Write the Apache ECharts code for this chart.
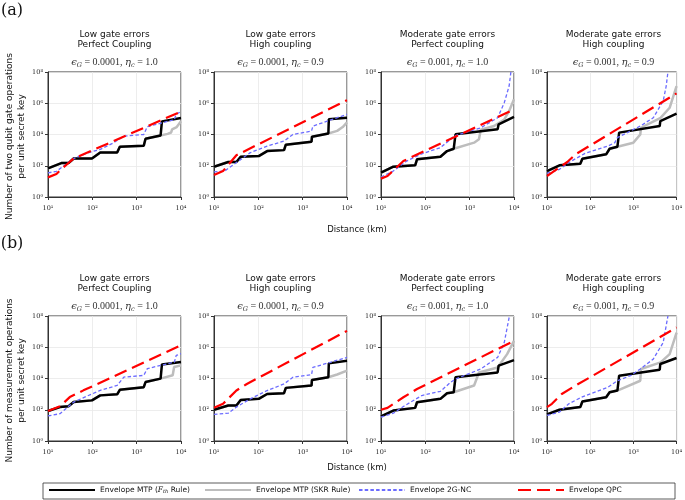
<!DOCTYPE html>
<html>
<head>
<meta charset="utf-8">
<script src="https://cdn.jsdelivr.net/npm/echarts@6/dist/echarts.min.js"></script>
<style>html,body{margin:0;padding:0;background:#fff}#c{width:685px;height:500px}</style>
</head>
<body>
<div id="c"></div>
<script>
// ---------- text / categories ----------
const panelTitles = ['Low gate errors\nPerfect Coupling', 'Low gate errors\nHigh coupling', 'Moderate gate errors\nPerfect coupling', 'Moderate gate errors\nHigh coupling'];
const epsG = ['0.0001', '0.0001', '0.001', '0.001'];
const etaC = ['1.0', '0.9', '1.0', '0.9'];
const rowLetters = ['(a)', '(b)'];
const yLabels = ['Number of two qubit gate operations\nper unit secret key', 'Number of measurement operations\nper unit secret key'];
const xLabel = 'Distance (km)';
const seriesNames = ['Envelope MTP (F_th Rule)', 'Envelope MTP (SKR Rule)', 'Envelope 2G-NC', 'Envelope QPC'];
const xTickExps = [1, 2, 3, 4];
const yTickExps = [0, 2, 4, 6, 8];

// ---------- data: [distance km, operations] ----------
// (a) two-qubit gate operations
const mtpF_a1 = [[10,68],[20,148],[29,148],[38,290],[98,290],[151,700],[363,700],[417,1660],[1445,1900],[1585,5300],[3467,8700],[3715,69000],[10000,112000]];
const mtpS_a1 = [[10,68],[20,148],[29,148],[38,290],[98,290],[151,700],[363,700],[417,1660],[1445,1900],[1585,5300],[3467,8700],[5000,11000],[6000,13500],[6300,21000],[8000,30000],[10000,70000]];
const ncG_a1  = [[10,35],[15.5,44],[38,290],[74,630],[151,1120],[302,2950],[513,7900],[1445,10000],[1738,31600],[7079,89000],[7800,200000],[10000,295000]];
const qpc_a1  = [[10,18],[15.5,30],[20,60],[29,150],[38,290],[10000,295000]];

const mtpF_a2 = [[10,87],[21,174],[32,174],[40,380],[102,417],[158,870],[380,1000],[417,2240],[1585,3470],[1622,7240],[3802,11700],[3890,93000],[10000,117000]];
const mtpS_a2 = [[10,87],[21,174],[32,174],[40,380],[102,417],[158,870],[380,1000],[417,2240],[1585,3470],[1622,7240],[3802,11700],[6000,17000],[8000,30000],[10000,60000]];
const ncG_a2  = [[10,40],[17.4,46],[32,160],[66,690],[158,1820],[380,3800],[603,10000],[1585,16600],[1700,34700],[10000,195000]];
const qpc_a2  = [[10,26],[16,46],[32,470],[10000,1580000]];

const mtpF_a3 = [[10,36],[19,87],[59,107],[65,257],[219,380],[309,870],[437,1230],[479,10200],[4266,21400],[4500,44700],[10000,132000]];
const mtpS_a3 = [[10,36],[19,87],[59,107],[65,257],[219,380],[309,870],[437,1230],[1259,3000],[1622,4900],[1778,20000],[3548,35000],[6026,89000],[7762,320000],[10000,1780000]];
const ncG_a3  = [[10,19],[19,46],[38,200],[78,540],[219,1450],[372,4900],[437,7900],[479,10000],[1778,27000],[4266,117000],[6026,1070000],[7762,12600000],[8511,100000000]];
const qpc_a3  = [[10,15],[14,22],[32,200],[46,330],[10000,400000]];

const mtpF_a4 = [[10,46],[19.5,107],[59,135],[66,282],[234,537],[282,1230],[427,1660],[468,13200],[4074,34700],[4200,72400],[10000,214000]];
const mtpS_a4 = [[10,46],[19.5,107],[59,135],[66,282],[234,537],[282,1230],[427,1660],[1000,3000],[1445,10000],[1500,27000],[4266,117000],[6918,513000],[10000,12600000]];
const ncG_a4  = [[10,33],[19.5,59],[32,160],[76,620],[257,1820],[372,3000],[427,6300],[851,16600],[1445,34700],[2884,117000],[4898,1380000],[5754,12600000],[6310,100000000]];
const qpc_a4  = [[10,22],[13,36],[29.5,174],[46,540],[10000,4270000]];

// (b) measurement operations
const mtpF_b1 = [[10,83],[18.6,148],[29,166],[38,309],[98,398],[151,832],[363,977],[417,1900],[1445,2800],[1585,5900],[3467,9800],[3715,79000],[10000,112000]];
const mtpS_b1 = [[10,83],[18.6,148],[29,166],[38,309],[98,398],[151,832],[363,977],[417,1900],[1445,2800],[1585,5900],[3467,9800],[6500,16000],[7000,54000],[10000,69000]];
const ncG_b1  = [[10,40],[18.6,56],[38,309],[74,724],[151,1740],[363,3630],[513,12300],[1445,15800],[1738,42700],[7079,112000],[7800,300000],[10000,390000]];
const qpc_b1  = [[10,83],[18.6,166],[31,646],[63,1740],[10000,1320000]];

const mtpF_b2 = [[10,100],[21,186],[32,186],[40,427],[102,500],[158,1020],[380,1150],[417,2510],[1585,3550],[1622,8130],[3802,12000],[3890,93000],[10000,138000]];
const mtpS_b2 = [[10,100],[21,186],[32,186],[40,427],[102,500],[158,1020],[380,1150],[417,2510],[1585,3550],[1622,8130],[3802,12000],[6000,18000],[10000,32000]];
const ncG_b2  = [[10,50],[21,60],[32,148],[66,500],[158,1700],[380,4470],[603,12000],[1585,17800],[1700,51300],[10000,224000]];
const qpc_b2  = [[10,132],[16,240],[32,1700],[55,4470],[10000,11200000]];

const mtpF_b3 = [[10,37],[19,89],[59,132],[65,302],[219,500],[309,1150],[437,1320],[479,12000],[4266,24500],[4500,66000],[10000,151000]];
const mtpS_b3 = [[10,37],[19,89],[59,132],[65,302],[219,500],[309,1150],[437,1320],[1259,3550],[1479,12000],[1622,24500],[4266,51000],[7000,363000],[10000,2570000]];
const ncG_b3  = [[10,34],[19,60],[32,162],[83,813],[219,1510],[372,5750],[479,9300],[1778,40700],[4266,224000],[6026,2000000],[7762,79000000],[8000,100000000]];
const qpc_b3  = [[10,100],[14,132],[32,630],[65,2140],[10000,2570000]];

const mtpF_b4 = [[10,50],[19.5,100],[59,148],[66,339],[234,631],[282,1320],[427,1700],[468,15100],[4074,36300],[4200,85100],[10000,204000]];
const mtpS_b4 = [[10,50],[19.5,100],[59,148],[66,339],[234,631],[282,1320],[427,1700],[1445,7200],[1500,40700],[4266,107000],[6918,363000],[10000,8700000]];
const ncG_b4  = [[10,43],[19.5,71],[32,240],[63,631],[257,2750],[427,7240],[851,15100],[1445,40700],[2884,174000],[4898,2000000],[6310,100000000]];
const qpc_b4  = [[10,148],[13,240],[22,1020],[46,3550],[10000,18200000]];

const panelData = [
  [mtpF_a1, mtpS_a1, ncG_a1, qpc_a1], [mtpF_a2, mtpS_a2, ncG_a2, qpc_a2],
  [mtpF_a3, mtpS_a3, ncG_a3, qpc_a3], [mtpF_a4, mtpS_a4, ncG_a4, qpc_a4],
  [mtpF_b1, mtpS_b1, ncG_b1, qpc_b1], [mtpF_b2, mtpS_b2, ncG_b2, qpc_b2],
  [mtpF_b3, mtpS_b3, ncG_b3, qpc_b3], [mtpF_b4, mtpS_b4, ncG_b4, qpc_b4]
];

// ---------- layout ----------
const gridLefts = [48, 214, 381, 547];
const gridTops = [72, 316];
const gridW = 133, gridH = 125;
const xLabelY = [230, 468];
const SUP = {'0':'⁰','1':'¹','2':'²','3':'³','4':'⁴','5':'⁵','6':'⁶','7':'⁷','8':'⁸'};
const supFmt = v => '10' + SUP[String(Math.round(Math.log10(v)))];

const styles = [
  {color: '#000000', width: 2.5, type: 'solid', z: 3},
  {color: '#bdbdbd', width: 2.5, type: 'solid', z: 2},
  {color: '#6b6bff', width: 1.3, type: [3.5, 2.2], z: 4},
  {color: '#ff0000', width: 2.2, type: [13, 6], z: 5}
];

const grids = [], xAxes = [], yAxes = [], series = [], graphics = [];
for (let r = 0; r < 2; r++) {
  for (let c = 0; c < 4; c++) {
    const i = r * 4 + c;
    grids.push({left: gridLefts[c], top: gridTops[r], width: gridW, height: gridH, show: true, borderColor: '#333', borderWidth: 1, containLabel: false});
    xAxes.push({type: 'log', logBase: 10, gridIndex: i, min: 10, max: 10000,
      axisLine: {show: true, onZero: false, lineStyle: {color: '#333', width: 1}},
      axisTick: {show: true, length: 3, lineStyle: {color: '#333'}},
      axisLabel: {fontSize: 6.5, fontFamily: 'DejaVu Serif', color: '#222', margin: 8, formatter: supFmt},
      splitLine: {show: true, lineStyle: {color: '#e8e8e8', width: 0.8}}, minorTick: {show: false}});
    yAxes.push({type: 'log', logBase: 10, gridIndex: i, min: 1, max: 100000000, interval: 2,
      axisLine: {show: true, onZero: false, lineStyle: {color: '#333', width: 1}},
      axisTick: {show: true, length: 3, lineStyle: {color: '#333'}},
      axisLabel: {fontSize: 6.5, fontFamily: 'DejaVu Serif', color: '#222', margin: 5, formatter: supFmt},
      splitLine: {show: true, lineStyle: {color: '#e8e8e8', width: 0.8}}});
    const order = [1, 0, 2, 3];
    order.forEach(k => {
      series.push({type: 'line', name: seriesNames[k], xAxisIndex: i, yAxisIndex: i,
        data: panelData[i][k], showSymbol: false, symbol: 'none', clip: true, z: styles[k].z,
        lineStyle: {color: styles[k].color, width: styles[k].width, type: styles[k].type},
        itemStyle: {color: styles[k].color}, animation: false});
    });
    const cx = gridLefts[c] + gridW / 2;
    const top = gridTops[r];
    graphics.push({type: 'text', x: cx, y: top - 32, style: {text: panelTitles[c], align: 'center', verticalAlign: 'middle', fontSize: 9, lineHeight: 10, fontFamily: 'DejaVu Sans', fill: '#111'}});
    graphics.push({type: 'text', x: cx, y: top - 10, style: {
      text: '{m|ϵ}{s|G}{n| = ' + epsG[c] + ', }{m|η}{s|c}{n| = ' + etaC[c] + '}',
      align: 'center', verticalAlign: 'middle', fill: '#333',
      rich: {
        m: {fontSize: 10, fontFamily: 'DejaVu Serif', fontStyle: 'italic', fill: '#333'},
        s: {fontSize: 6.5, fontFamily: 'DejaVu Serif', fontStyle: 'italic', fill: '#333', padding: [6, 0, 0, 0]},
        n: {fontSize: 10, fontFamily: 'Liberation Serif', fill: '#333'}
      }}});
  }
  graphics.push({type: 'text', x: 16, y: gridTops[r] + gridH / 2 + 2, rotation: Math.PI / 2, style: {text: yLabels[r], align: 'center', verticalAlign: 'middle', fontSize: 9, lineHeight: 12, fontFamily: 'DejaVu Sans', fill: '#111'}});
  graphics.push({type: 'text', x: 357, y: xLabelY[r], style: {text: xLabel, align: 'center', verticalAlign: 'middle', fontSize: 8.5, fontFamily: 'DejaVu Sans', fill: '#111'}});
  graphics.push({type: 'text', x: 12, y: r === 0 ? 11 : 244, style: {text: rowLetters[r], align: 'center', verticalAlign: 'middle', fontSize: 16, fontFamily: 'DejaVu Serif', fill: '#111'}});
}
graphics.push({type: 'rect', shape: {x: 43, y: 483, width: 632, height: 16}, z: -1, style: {fill: '#fff', stroke: '#333', lineWidth: 0.8}});

const legendLefts = [48, 204, 358, 517];
const legends = seriesNames.map((n, k) => ({
  data: [n], left: legendLefts[k], top: 486, itemWidth: 46, itemHeight: 10, itemGap: 0, padding: 0,
  itemStyle: {opacity: 0},
  textStyle: {fontSize: 7.5, fontFamily: 'DejaVu Sans', color: '#111',
    rich: {i: {fontSize: 7.5, fontStyle: 'italic', fontFamily: 'DejaVu Serif'}, s: {fontSize: 5, fontStyle: 'italic', fontFamily: 'DejaVu Serif', padding: [4, 0, 0, 0]}}},
  formatter: name => name === seriesNames[0] ? 'Envelope MTP ({i|F}{s|th} Rule)' : name,
  selectedMode: false
}));

const chart = echarts.init(document.getElementById('c'), null, {renderer: 'canvas'});
chart.setOption({
  animation: false,
  backgroundColor: '#fff',
  grid: grids, xAxis: xAxes, yAxis: yAxes, series: series,
  legend: legends, graphic: graphics
});
</script>
</body>
</html>
